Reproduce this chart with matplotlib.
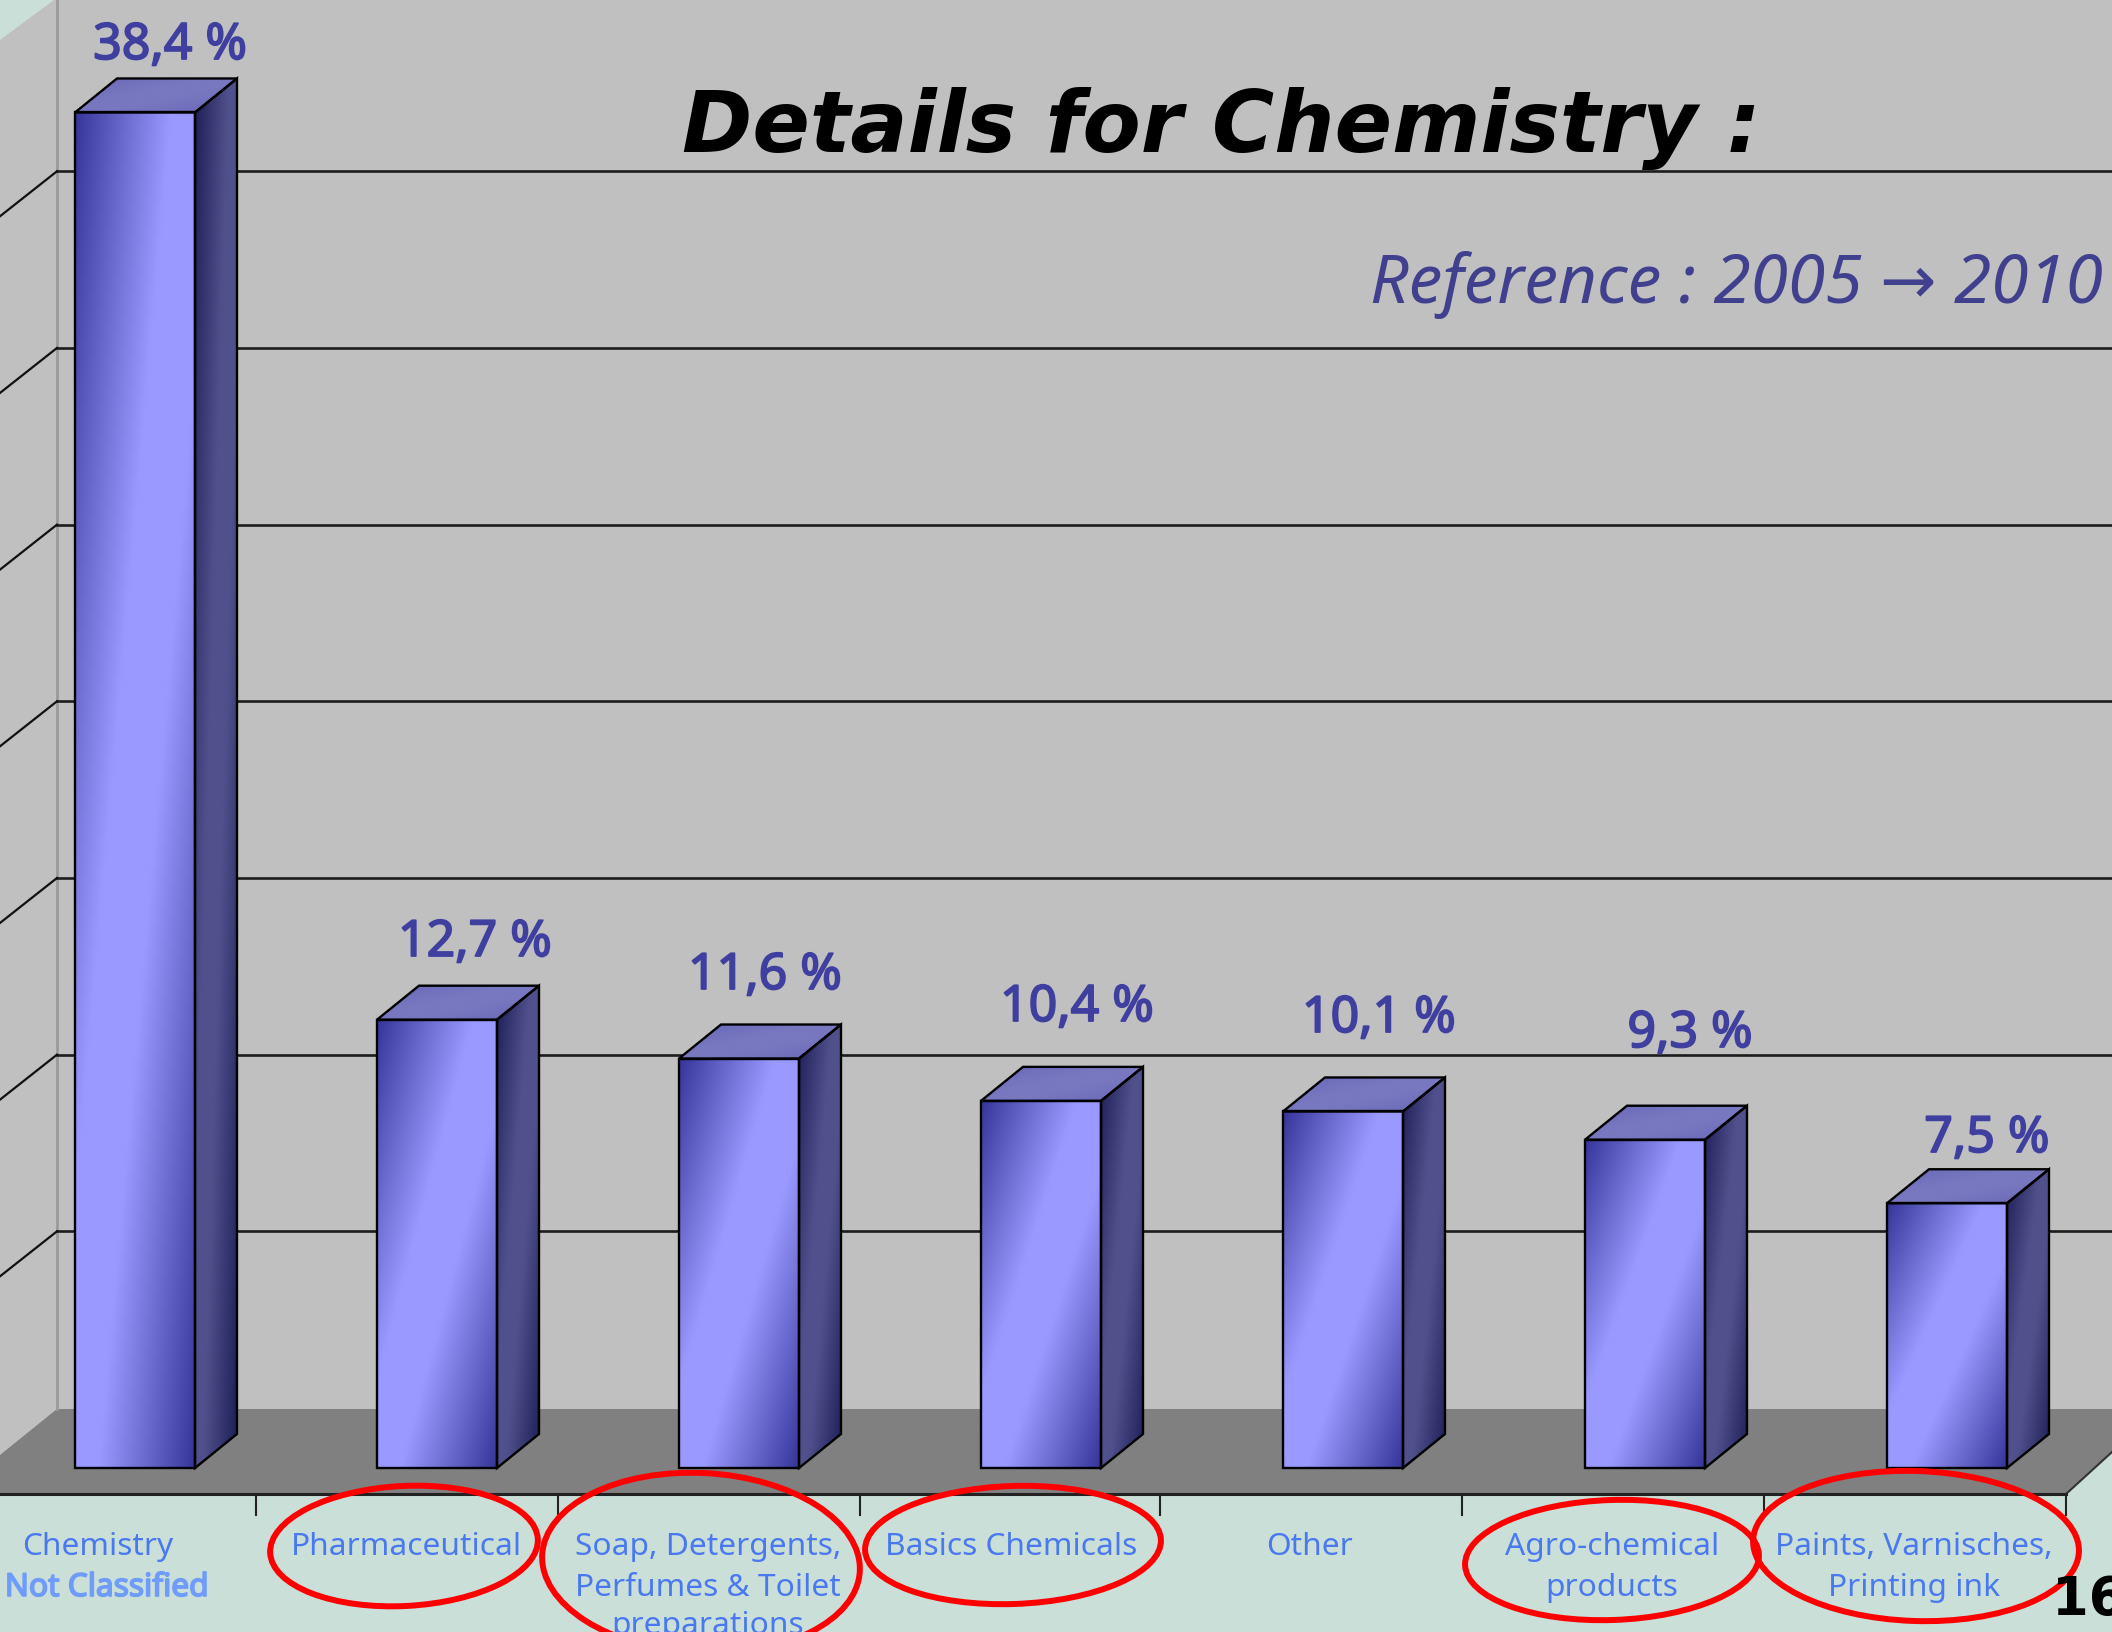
import numpy as np
import matplotlib
matplotlib.use("Agg")
import matplotlib.pyplot as plt
import matplotlib.patheffects as pe
from matplotlib.patches import Polygon, Ellipse
from matplotlib.colors import to_rgb

# chart values
categories = ["Chemistry\nNot Classified", "Pharmaceutical", "Soap, Detergents,\nPerfumes & Toilet\npreparations",
              "Basics Chemicals", "Other", "Agro-chemical\nproducts", "Paints, Varnisches,\nPrinting ink"]
values = [38.4, 12.7, 11.6, 10.4, 10.1, 9.3, 7.5]
value_labels = ["38,4 %", "12,7 %", "11,6 %", "10,4 %", "10,1 %", "9,3 %", "7,5 %"]
grid_values = [5, 10, 15, 20, 25, 30, 35]

# where things sit in the picture, in pixels
W, H = 2112, 1632
label_x = [170, 475, 765, 1077, 1379, 1690, 1987]
label_y = [46, 943, 976, 1008, 1019, 1034, 1139]
cat_x = [102, 406, 708, 1011, 1309, 1612, 1914]
line_y = [1547, 1588, 1626]
# red circles: centre x, centre y, width, height, angle
circles = [(404, 1546, 268, 120, -3), (701, 1563, 318, 180, 3), (1013, 1545, 296, 118, -2),
           (1612, 1560, 294, 120, -2), (1916, 1546, 326, 150, 2)]

BG = "#c9dfd7"
WALL = "#c0c0c0"
FLOOR = "#808080"
TXT = "#4a78f0"

# bar axes: x in category numbers, y in percent
px_per_cat = 302.0
px_per_val = 35.3
x0_px = 135.0
base_px = 1468.0
bar_w = 120 / px_per_cat
dep_x = 42 / px_per_cat
dep_y = 34 / px_per_val
wall_lift = (base_px - 1408) / px_per_val

fig = plt.figure(figsize=(W / 100, H / 100), dpi=100, facecolor=BG)

# scenery in pixel coordinates
bg = fig.add_axes([0, 0, 1, 1])
bg.set_xlim(0, W)
bg.set_ylim(H, 0)
bg.axis("off")
bg.add_patch(Polygon([(0, 40), (54, 0), (W, 0), (W, 1452), (2066, 1494), (0, 1494)], closed=True, fc=WALL, ec="none"))
bg.add_patch(Polygon([(57, 1409), (W, 1409), (W, 1452), (2066, 1494), (0, 1494), (0, 1455)], closed=True, fc=FLOOR, ec="none"))
bg.plot([57, 57], [0, 1409], color="#9a9a9a", lw=2)
bg.plot([0, 2066], [1494, 1494], color="#222222", lw=2.2)
bg.plot([2066, W], [1494, 1452], color="#333333", lw=1.5)
for tx in [256, 558, 860, 1160, 1462, 1764, 2066]:
    bg.plot([tx, tx], [1494, 1515], color="#222222", lw=1.5)

ax = fig.add_axes([0, 0, 1, 1])
ax.patch.set_alpha(0)
ax.axis("off")
xlim = (-x0_px / px_per_cat, (W - x0_px) / px_per_cat)
ylim = ((base_px - H) / px_per_val, base_px / px_per_val)


def blend(t, c1, c2):
    c1, c2 = np.array(to_rgb(c1)), np.array(to_rgb(c2))
    return c1 + (c2 - c1) * t[..., None]


def face(poly, extent, dark, light):
    # diagonal shading: dark corner, light band, dark corner
    xx, yy = np.meshgrid(np.linspace(0, 1, 80), np.linspace(0, 1, 80))
    t = np.clip(1.25 * (1 - np.abs(xx + yy - 1)), 0, 1)
    im = ax.imshow(blend(t, dark, light), extent=extent, origin="upper", aspect="auto",
                   interpolation="bilinear", zorder=3)
    p = Polygon(poly, closed=True, fc="none", ec="black", lw=1.7, zorder=4)
    ax.add_patch(p)
    im.set_clip_path(p)


# wall grid lines, behind the bars
for g in grid_values:
    gy = g * 1.001 + wall_lift
    ax.plot([57 / px_per_cat + xlim[0], xlim[1]], [gy, gy], color="#1c1c1c", lw=1.9, zorder=1)
    ax.plot([xlim[0], 57 / px_per_cat + xlim[0]], [gy - 45 / px_per_val, gy], color="#111111", lw=1.6, zorder=1)

for i, v in enumerate(values):
    l, r = i - bar_w / 2, i + bar_w / 2
    face([(l, 0), (r, 0), (r, v), (l, v)], (l, r, 0, v), "#36369a", "#9999ff")
    face([(r, 0), (r + dep_x, dep_y), (r + dep_x, v + dep_y), (r, v)], (r, r + dep_x, 0, v + dep_y), "#1e1e58", "#50508c")
    face([(l, v), (r, v), (r + dep_x, v + dep_y), (l + dep_x, v + dep_y)], (l, r + dep_x, v, v + dep_y), "#6666b8", "#7878c0")
ax.set_xlim(xlim)
ax.set_ylim(ylim)

# texts and circles in pixel coordinates again
top = fig.add_axes([0, 0, 1, 1])
top.patch.set_alpha(0)
top.set_xlim(0, W)
top.set_ylim(H, 0)
top.axis("off")

for s, x, y in zip(value_labels, label_x, label_y):
    t = top.text(x, y, s, ha="center", va="center", color="#3f3fa0", fontsize=36, family="Noto Sans")
    t.set_path_effects([pe.withStroke(linewidth=1.3, foreground="#3f3fa0")])

for i, cat in enumerate(categories):
    for j, line in enumerate(cat.split("\n")):
        bold = line == "Not Classified"
        t = top.text(cat_x[i] + (5 if bold else -4 if i == 0 else 0), line_y[j], line, ha="center", va="center",
                     color="#6f9bfb" if bold else TXT, fontsize=22.8, family="Noto Sans", clip_on=False)
        if bold:
            t.set_path_effects([pe.withStroke(linewidth=1.2, foreground="#6f9bfb")])

for cx, cy, w, h, a in circles:
    top.add_patch(Ellipse((cx, cy), w, h, angle=a, fc="none", ec="#ff0000", lw=4.3))

top.text(1221, 129, "Details for Chemistry :", ha="center", va="center", fontsize=61,
         family="DejaVu Sans", fontweight="bold", style="italic", color="black")
top.text(1736, 285, "Reference : 2005 \u2192 2010", ha="center", va="center", fontsize=48.6,
         family=["Noto Sans", "DejaVu Sans"], style="italic", color="#40408f")
top.text(2052, 1600, "16", ha="left", va="center", fontsize=38, family="DejaVu Sans", fontweight="bold", color="black")

fig.savefig("out.png", dpi=100, facecolor=BG)
